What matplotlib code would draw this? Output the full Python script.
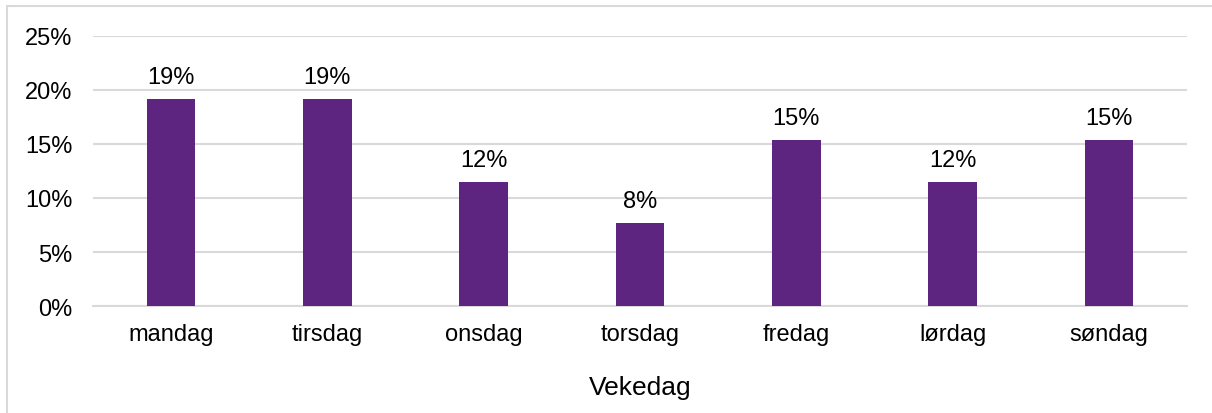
import matplotlib
matplotlib.use('Agg')
from matplotlib import pyplot as plt
from matplotlib.patches import Rectangle
from matplotlib.ticker import PercentFormatter

days = ['mandag', 'tirsdag', 'onsdag', 'torsdag', 'fredag', 'lørdag', 'søndag']
shares = [0.192, 0.192, 0.115, 0.077, 0.154, 0.115, 0.154]
labels = ['19%', '19%', '12%', '8%', '15%', '12%', '15%']
yticks = [0, 0.05, 0.10, 0.15, 0.20, 0.25]

plt.rcParams['font.family'] = ['Liberation Sans', 'DejaVu Sans']

W, H = 1212, 414
fig = plt.figure(figsize=(W / 100, H / 100), dpi=100)

# outer chart frame, cut off at right and bottom
fig.patches.append(Rectangle((7 / W, -0.2), 2, (H - 7) / H + 0.2,
                             transform=fig.transFigure, fill=False,
                             edgecolor='#d9d9d9', linewidth=1.5))

ax = fig.add_axes([93 / W, 107 / H, (1187 - 93) / W, (377 - 107) / H])
x = range(len(days))
ax.bar(x, shares, width=0.31, color='#5e2580', zorder=3)

for xi, v, lab in zip(x, shares, labels):
    ax.annotate(lab, (xi, v), xytext=(0, 11.5), textcoords='offset points',
                ha='center', va='baseline', fontsize=17, color='#000000')

ax.set_xlim(-0.5, len(days) - 0.5)
ax.set_ylim(0, 0.25)
ax.set_yticks(yticks)
ax.yaxis.set_major_formatter(PercentFormatter(1.0, decimals=0))
ax.set_xticks(list(x))
ax.set_xticklabels(days)
ax.tick_params(axis='both', length=0, labelsize=17, colors='#000000')
ax.tick_params(axis='y', pad=15)
ax.tick_params(axis='x', pad=12)
ax.grid(axis='y', color='#d9d9d9', linewidth=1.5, zorder=0)
for s in ['top', 'right', 'left']:
    ax.spines[s].set_visible(False)
ax.spines['bottom'].set_color('#d9d9d9')
ax.spines['bottom'].set_linewidth(1.5)

fig.text(640 / W, 1 - 388 / H, 'Vekedag', ha='center', va='center', fontsize=19)

fig.savefig('out.png', dpi=100)
